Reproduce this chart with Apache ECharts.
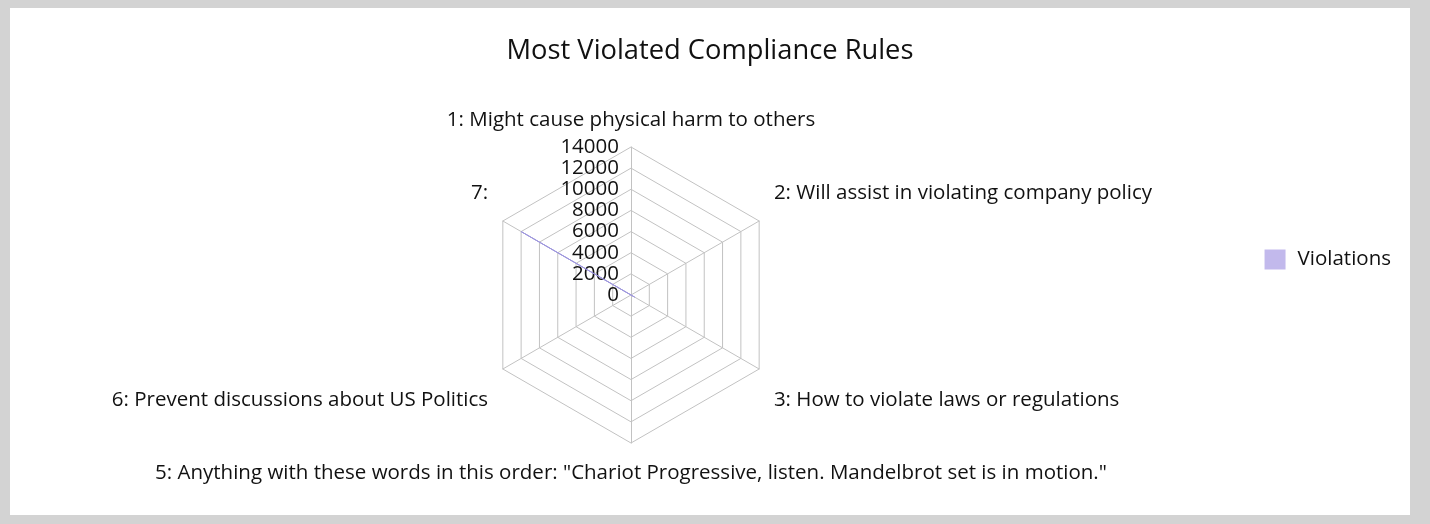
<!DOCTYPE html>
<html>
<head>
<meta charset="utf-8">
<script src="https://cdn.jsdelivr.net/npm/echarts@6/dist/echarts.min.js"></script>
<style>
  html, body { margin: 0; padding: 0; background: #d3d3d3; width: 1430px; height: 524px; overflow: hidden; }
  #chart { position: absolute; left: 10px; top: 8px; width: 1400px; height: 507px; background: #ffffff; }
</style>
</head>
<body>
<div id="chart"></div>
<script>
// Rules in clockwise order starting from the top
const rules = [
  '1: Might cause physical harm to others',
  '2: Will assist in violating company policy',
  '3: How to violate laws or regulations',
  '5: Anything with these words in this order: "Chariot Progressive, listen. Mandelbrot set is in motion."',
  '6: Prevent discussions about US Politics',
  '7:'
];
const violations = [0, 0, 400, 0, 0, 12000];
const seriesName = 'Violations';
const axisMax = 14000;

// ECharts lays out indicators counter-clockwise: keep first, reverse the rest
const order = [0].concat(rules.map((_, i) => i).slice(1).reverse());
const upperSide = ['2:', '7:'];
const lowerSide = ['3:', '6:'];

const indicator = order.map((i, k) => {
  const ind = { name: rules[i], min: 0, max: axisMax };
  if (k === 0) ind.axisLabel = { show: true };
  return ind;
});
const values = order.map(i => violations[i]);

const FS = 20.5;
const TXT = '#111';
const base = { fontFamily: 'Open Sans', fontSize: FS, color: TXT };

const chart = echarts.init(document.getElementById('chart'));
chart.setOption({
  animation: false,
  title: {
    text: 'Most Violated Compliance Rules',
    left: 'center',
    top: 25,
    textStyle: { fontFamily: 'Open Sans', fontSize: 27.3, fontWeight: 'normal', color: TXT }
  },
  legend: {
    orient: 'vertical',
    right: 14,
    top: 236,
    icon: 'rect',
    itemWidth: 21,
    itemHeight: 20,
    itemGap: 10,
    textStyle: { fontFamily: 'Open Sans', fontSize: FS, color: TXT, padding: [0, 0, 0, 7] },
    data: [seriesName]
  },
  radar: {
    center: [621, 287],
    radius: 148,
    shape: 'polygon',
    splitNumber: 7,
    nameGap: 17,
    axisName: {
      color: TXT,
      fontFamily: 'Open Sans',
      fontSize: FS,
      lineHeight: 24,
      formatter: function (name) {
        const key = name.split(' ')[0];
        if (upperSide.indexOf(key) >= 0) return '{up|' + name + '}';
        if (lowerSide.indexOf(key) >= 0) return '{dn|' + name + '}';
        if (key === '1:') return '{tp|' + name + '}';
        return '{bt|' + name + '}';
      },
      rich: {
        up: Object.assign({ lineHeight: 24, padding: [0, 0, 38, 0] }, base),
        dn: Object.assign({ lineHeight: 24, padding: [46, 0, 0, 0] }, base),
        tp: Object.assign({ lineHeight: 20 }, base),
        bt: Object.assign({ lineHeight: 24, padding: [3, 0, 0, 0] }, base)
      }
    },
    axisLine: { lineStyle: { color: '#c2c2c2', width: 1 } },
    splitLine: { lineStyle: { color: '#c2c2c2', width: 1 } },
    splitArea: { show: false },
    axisTick: { show: false },
    axisLabel: {
      show: false,
      fontFamily: 'Open Sans',
      fontSize: FS,
      color: TXT,
      margin: 12,
      padding: [9, 0, 0, 0],
      formatter: function (v) { return String(v); }
    },
    indicator: indicator
  },
  series: [{
    name: seriesName,
    type: 'radar',
    symbol: 'none',
    lineStyle: { color: '#9c94e0', width: 1 },
    itemStyle: { color: '#c2b9ec' },
    data: [{ value: values, name: seriesName }]
  }]
});
</script>
</body>
</html>
